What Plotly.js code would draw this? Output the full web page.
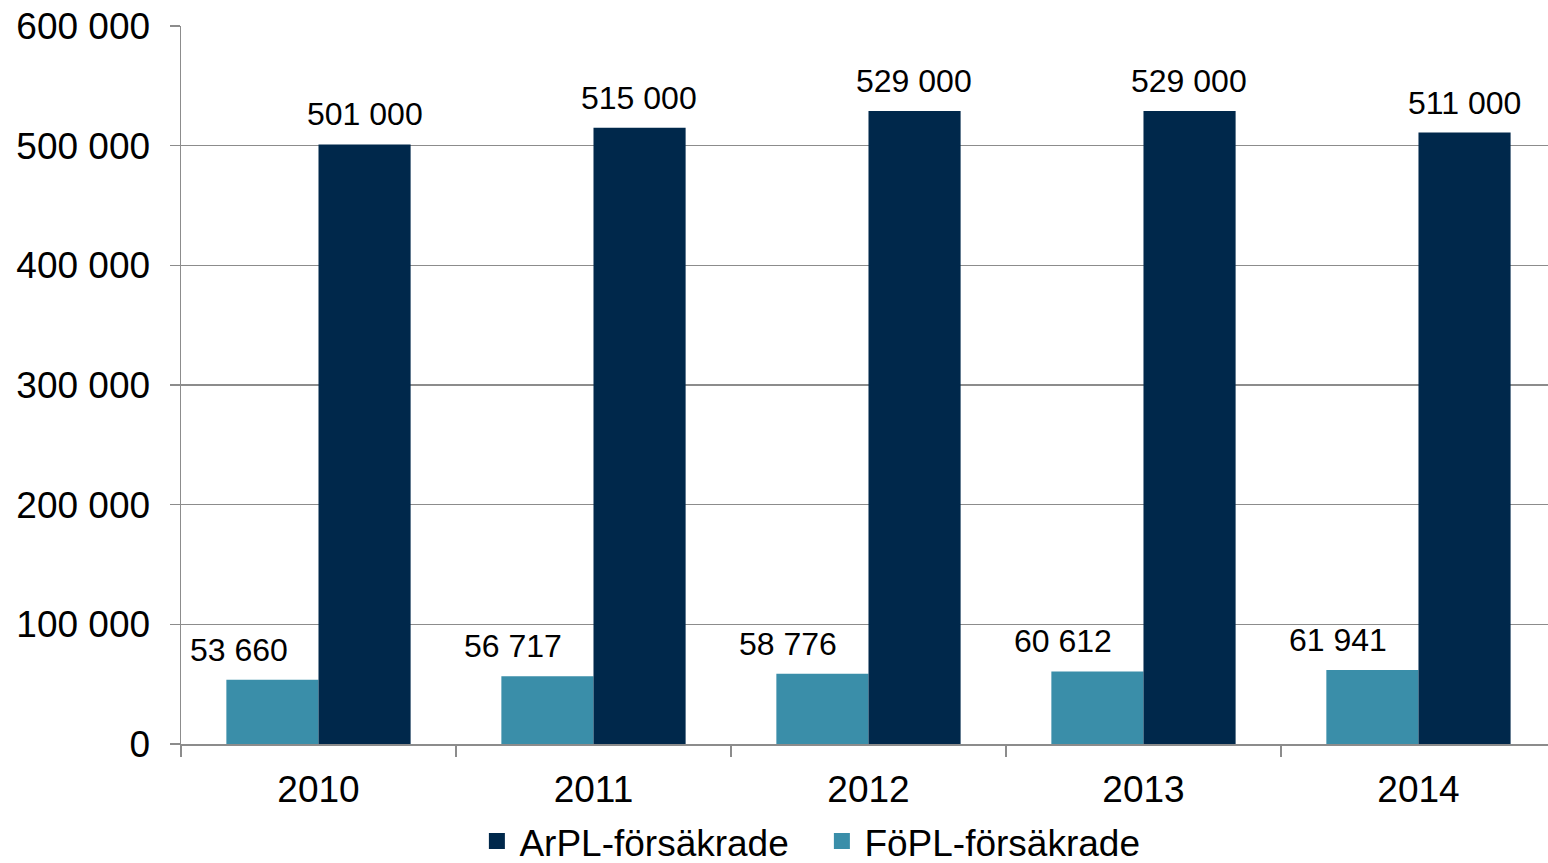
<!DOCTYPE html>
<html>
<head>
<meta charset="utf-8">
<script src="https://cdn.plot.ly/plotly-3.0.1.min.js"></script>
<style>html,body{margin:0;padding:0;background:#fff;}#chart{width:1548px;height:863px;}</style>
</head>
<body>
<div id="chart"></div>
<script>
var years = ['2010', '2011', '2012', '2013', '2014'];
var fopl = [53660, 56717, 58776, 60612, 61941];
var arpl = [501000, 515000, 529000, 529000, 511000];
var yTicks = [0, 100000, 200000, 300000, 400000, 500000, 600000];
var names = ['FöPL-försäkrade', 'ArPL-försäkrade'];

function fmt(v) {
  var s = String(v), out = '';
  while (s.length > 3) { out = ' ' + s.slice(-3) + out; s = s.slice(0, -3); }
  return s + out;
}

var FONT = 'Liberation Sans, Arial, sans-serif';
var C_AR = '#00284b';
var C_FO = '#3a8ea9';
var GRID = '#8c8c8c';

var traces = [
  {type: 'bar', name: names[0], x: years, y: fopl, legendgroup: 'fo', showlegend: false,
   marker: {color: C_FO, line: {width: 0}}},
  {type: 'bar', name: names[1], x: years, y: arpl, legendgroup: 'ar', showlegend: false,
   marker: {color: C_AR, line: {width: 0}}},
  {type: 'scatter', mode: 'markers', name: names[0], x: [null], y: [null], legendgroup: 'fo',
   marker: {symbol: 'square', size: 18, color: C_FO}},
  {type: 'scatter', mode: 'markers', name: names[1], x: [null], y: [null], legendgroup: 'ar',
   marker: {symbol: 'square', size: 18, color: C_AR}}
];

var annotations = [];
years.forEach(function (yr, i) {
  annotations.push({x: i, y: fopl[i], xref: 'x', yref: 'y', text: fmt(fopl[i]),
    showarrow: false, xanchor: 'center', yanchor: 'bottom', xshift: -80, yshift: 10,
    font: {family: FONT, size: 32, color: '#000'}});
  annotations.push({x: i, y: arpl[i], xref: 'x', yref: 'y', text: fmt(arpl[i]),
    showarrow: false, xanchor: 'center', yanchor: 'bottom', xshift: 46, yshift: 10,
    font: {family: FONT, size: 32, color: '#000'}});
});

var layout = {
  width: 1548, height: 863,
  margin: {l: 181, r: 0, t: 26, b: 119, pad: 0, autoexpand: false},
  paper_bgcolor: '#fff', plot_bgcolor: '#fff',
  barmode: 'group', bargap: 0.33, bargroupgap: 0,
  font: {family: FONT, color: '#000'},
  showlegend: true,
  legend: {orientation: 'h', traceorder: 'reversed', x: 0.467, xanchor: 'center',
    y: -0.179, yanchor: 'bottom', font: {family: FONT, size: 37, color: '#000'},
    bgcolor: 'rgba(0,0,0,0)', itemclick: false, entrywidth: 295, itemwidth: 35},
  xaxis: {type: 'category', range: [-0.5, 4.471], tickson: 'boundaries',
    ticks: 'outside', ticklen: 11, tickwidth: 1.5, tickcolor: GRID,
    showline: true, linecolor: GRID, linewidth: 1.5, showgrid: false,
    tickfont: {family: FONT, size: 37, color: '#000'}, ticklabelstandoff: 12,
    fixedrange: true},
  yaxis: {range: [0, 600000], tickvals: yTicks, ticktext: yTicks.map(fmt),
    ticks: 'outside', ticklen: 10, tickwidth: 1.5, tickcolor: GRID,
    showline: true, linecolor: GRID, linewidth: 1.5,
    showgrid: true, gridcolor: GRID, gridwidth: 1.5, zeroline: false,
    tickfont: {family: FONT, size: 37, color: '#000'}, ticklabelstandoff: 12,
    fixedrange: true},
  annotations: annotations
};

Plotly.newPlot('chart', traces, layout, {displayModeBar: false, staticPlot: true});
</script>
</body>
</html>
